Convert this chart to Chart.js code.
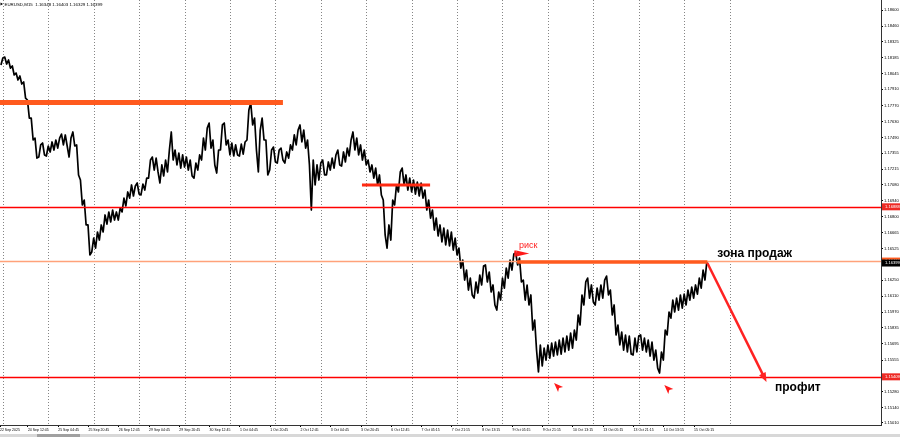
<!DOCTYPE html>
<html lang="ru">
<head>
  <meta charset="UTF-8" />
  <title>EURUSD,M15</title>
  <script src="https://cdn.jsdelivr.net/npm/chart.js"></script>
  <style>
    html, body { margin: 0; padding: 0; background: #ffffff; }
    #wrap { width: 900px; height: 437px; position: relative; overflow: hidden; }
    #chart { display: block; }
    .scroll { position: absolute; left: 0; top: 434px; width: 900px; height: 3px; background: #d8d8d8; }
    .scroll i { position: absolute; left: 37px; top: 0; width: 43px; height: 3px; background: #a0a0a0; }
  </style>
</head>
<body>
  <div id="wrap">
    <canvas id="chart" width="900" height="434"></canvas>
    <div class="scroll"><i></i></div>
  </div>

  <script>
    // EURUSD M15, grouped in 2-hour columns (8 bars), high / low
    const barsPerColumn = 8;
    const highs = [
      1.18182, 1.18191, 1.18165, 1.18113, 1.18052, 1.18026, 1.17974, 1.17817, 1.17660, 1.17486,
      1.17426, 1.17443, 1.17417, 1.17452, 1.17469, 1.17486, 1.17521, 1.17513, 1.17486, 1.17539,
      1.17426, 1.17121, 1.16947, 1.16730, 1.16616, 1.16669, 1.16730, 1.16817, 1.16843, 1.16860,
      1.16843, 1.16877, 1.16964, 1.17017, 1.17078, 1.17069, 1.17095, 1.17086, 1.17138, 1.17295,
      1.17321, 1.17312, 1.17252, 1.17295, 1.17382, 1.17539, 1.17382, 1.17356, 1.17339, 1.17321,
      1.17295, 1.17269, 1.17339, 1.17486, 1.17574, 1.17617, 1.17469, 1.17382, 1.17600, 1.17617,
      1.17469, 1.17443, 1.17426, 1.17434, 1.17452, 1.17730, 1.17791, 1.17660, 1.17556, 1.17660,
      1.17469, 1.17382, 1.17408, 1.17382, 1.17399, 1.17365, 1.17426, 1.17513, 1.17556, 1.17600,
      1.17556, 1.17469, 1.17295, 1.17252, 1.17269, 1.17295, 1.17278, 1.17312, 1.17339, 1.17382,
      1.17365, 1.17399, 1.17469, 1.17539, 1.17486, 1.17426, 1.17382, 1.17295, 1.17252, 1.17225,
      1.17165, 1.16947, 1.16730, 1.16947, 1.17078, 1.17191, 1.17225, 1.17165, 1.17138, 1.17121,
      1.17103, 1.17095, 1.17034, 1.16947, 1.16860, 1.16790, 1.16730, 1.16703, 1.16686, 1.16669,
      1.16616, 1.16529, 1.16425, 1.16338, 1.16268, 1.16234, 1.16295, 1.16373, 1.16382, 1.16321,
      1.16208, 1.16147, 1.16268, 1.16355, 1.16425, 1.16477, 1.16486, 1.16442, 1.16251, 1.16208,
      1.16121, 1.15903, 1.15686, 1.15659, 1.15686, 1.15703, 1.15712, 1.15729, 1.15746, 1.15764,
      1.15790, 1.15816, 1.15947, 1.16121, 1.16234, 1.16268, 1.16208, 1.16181, 1.16208, 1.16251,
      1.16286, 1.16164, 1.16034, 1.15860, 1.15799, 1.15773, 1.15764, 1.15746, 1.15764, 1.15773,
      1.15746, 1.15729, 1.15712, 1.15642, 1.15625, 1.15816, 1.15973, 1.16077, 1.16094, 1.16121,
      1.16129, 1.16164, 1.16190, 1.16208, 1.16268, 1.16338, 1.16416
    ];
    const lows = [
      1.18122, 1.18130, 1.18095, 1.18035, 1.17991, 1.17956, 1.17834, 1.17660, 1.17469, 1.17312,
      1.17321, 1.17339, 1.17330, 1.17365, 1.17382, 1.17399, 1.17426, 1.17417, 1.17321, 1.17417,
      1.17165, 1.16904, 1.16730, 1.16469, 1.16495, 1.16529, 1.16599, 1.16669, 1.16738, 1.16756,
      1.16773, 1.16773, 1.16843, 1.16895, 1.16964, 1.16982, 1.16999, 1.16991, 1.17034, 1.17138,
      1.17208, 1.17191, 1.17095, 1.17156, 1.17191, 1.17295, 1.17252, 1.17225, 1.17234, 1.17208,
      1.17156, 1.17138, 1.17208, 1.17295, 1.17382, 1.17399, 1.17252, 1.17182, 1.17382, 1.17426,
      1.17339, 1.17330, 1.17339, 1.17330, 1.17347, 1.17469, 1.17600, 1.17382, 1.17191, 1.17469,
      1.17165, 1.17208, 1.17278, 1.17269, 1.17295, 1.17269, 1.17312, 1.17382, 1.17426, 1.17452,
      1.17399, 1.17252, 1.16860, 1.17078, 1.17121, 1.17165, 1.17165, 1.17208, 1.17225, 1.17252,
      1.17243, 1.17278, 1.17330, 1.17382, 1.17339, 1.17295, 1.17252, 1.17191, 1.17138, 1.17078,
      1.16991, 1.16643, 1.16529, 1.16599, 1.16904, 1.17017, 1.17078, 1.17034, 1.17017, 1.16999,
      1.16982, 1.16964, 1.16860, 1.16790, 1.16686, 1.16634, 1.16582, 1.16556, 1.16547, 1.16512,
      1.16469, 1.16355, 1.16251, 1.16164, 1.16121, 1.16094, 1.16138, 1.16208, 1.16234, 1.16147,
      1.16034, 1.15990, 1.16077, 1.16181, 1.16268, 1.16338, 1.16382, 1.16234, 1.16077, 1.16034,
      1.15816, 1.15642, 1.15451, 1.15503, 1.15555, 1.15572, 1.15590, 1.15599, 1.15607, 1.15625,
      1.15642, 1.15659, 1.15729, 1.15860, 1.16034, 1.16094, 1.16060, 1.16034, 1.16077, 1.16094,
      1.16121, 1.15947, 1.15773, 1.15686, 1.15642, 1.15625, 1.15607, 1.15599, 1.15625, 1.15642,
      1.15625, 1.15590, 1.15555, 1.15485, 1.15442, 1.15555, 1.15773, 1.15920, 1.15973, 1.15990,
      1.16007, 1.16034, 1.16077, 1.16094, 1.16129, 1.16181, 1.16251
    ];

    // time axis (bar numbers from the left edge)
    const timeLabels = [
      '22 Sep 2025', '24 Sep 12:45', '25 Sep 04:45', '25 Sep 20:45', '26 Sep 12:45', '29 Sep 04:45',
      '29 Sep 20:45', '30 Sep 12:45', '1 Oct 04:45', '1 Oct 20:45', '2 Oct 12:45', '3 Oct 04:45',
      '3 Oct 20:45', '6 Oct 12:45', '7 Oct 05:15', '7 Oct 21:15', '8 Oct 13:15', '9 Oct 05:15',
      '9 Oct 21:15', '10 Oct 13:15', '13 Oct 05:15', '13 Oct 21:15', '14 Oct 13:15', '15 Oct 05:15'
    ];
    const timeLabelBars = [0, 59, 123, 187, 251, 315, 379, 443, 507, 571, 635, 699, 763, 827, 891,
      955, 1019, 1083, 1147, 1211, 1275, 1339, 1403, 1467];
    const daySeparatorBars = [7, 103, 199, 295, 391, 487, 583, 679, 775, 871, 967, 1063, 1159,
      1255, 1351, 1447, 1543];

    const priceTicks = [
      1.18600, 1.18460, 1.18325, 1.18185, 1.18045, 1.17910, 1.17770, 1.17630, 1.17490, 1.17355,
      1.17215, 1.17080, 1.16940, 1.16800, 1.16665, 1.16525, 1.16385, 1.16250, 1.16110, 1.15970,
      1.15835, 1.15695, 1.15555, 1.15415, 1.15280, 1.15140, 1.15010
    ];

    const title = 'EURUSD,M15  1.16348 1.16403 1.16329 1.16399';
    const fontFamily = '"Liberation Sans", Arial, sans-serif';

    // objects drawn on the chart by hand (bar number, price)
    const drawings = {
      levels: [
        { price: 1.16888, color: '#ff0000', width: 1.6 },
        { price: 1.16416, color: '#ffa27a', width: 1.3 },
        { price: 1.15409, color: '#ff0000', width: 1.6 }
      ],
      segments: [
        { from: 0, to: 598, price: 1.17796, color: '#ff5a1e', width: 5 },
        { from: 765, to: 909, price: 1.17078, color: '#ff2a12', width: 3 },
        { from: 1093, to: 1495, price: 1.16408, color: '#ff5a1e', width: 3.5 }
      ],
      arrow: { from: [1495, 1.16399], to: [1620, 1.15365], color: '#ff2222', width: 2.5 },
      flag: { bar: 1087, price: 1.16482, color: '#ff1a1a' },
      markers: [
        { bar: 1171, price: 1.15355 },
        { bar: 1404, price: 1.15338 }
      ],
      texts: [
        { text: 'зона продаж', bar: 1516, price: 1.16477, font: 'bold 12px ' + fontFamily, color: '#000' },
        { text: 'профит', bar: 1638, price: 1.15311, font: 'bold 12px ' + fontFamily, color: '#000' },
        { text: 'риск', bar: 1097, price: 1.16551, font: '9px ' + fontFamily, color: '#ff2020' }
      ],
      priceBoxes: [
        { price: 1.16888, text: '1.16888', bg: '#ee2a24' },
        { price: 1.16416, text: '1.16416', bg: '#ff5a1e' },
        { price: 1.16399, text: '1.16399', bg: '#000000' },
        { price: 1.15409, text: '1.15409', bg: '#ee2a24' }
      ]
    };

    // price path: each 2-hour column drawn as a stroke between its high and low
    const pathPoints = [];
    highs.forEach((h, i) => {
      const l = lows[i];
      const mid = (h + l) / 2;
      const next = i + 1 < highs.length ? (highs[i + 1] + lows[i + 1]) / 2 : mid;
      const down = next < mid;
      pathPoints.push({ x: i * barsPerColumn + 2, y: down ? h : l });
      pathPoints.push({ x: i * barsPerColumn + 6, y: down ? l : h });
    });

    const overlay = {
      id: 'overlay',
      afterDatasetsDraw(chart) {
        const { ctx, chartArea: a, scales: { x, y } } = chart;
        const px = v => x.getPixelForValue(v);
        const py = v => y.getPixelForValue(v);
        ctx.save();
        ctx.beginPath();
        ctx.rect(a.left, a.top, a.right - a.left, a.bottom - a.top);
        ctx.clip();
        ctx.setLineDash([]);
        ctx.globalAlpha = 1;

        drawings.levels.forEach(l => {
          const yy = Math.round(py(l.price)) + 0.5;
          ctx.strokeStyle = l.color;
          ctx.lineWidth = l.width;
          ctx.beginPath();
          ctx.moveTo(a.left, yy);
          ctx.lineTo(a.right, yy);
          ctx.stroke();
        });

        drawings.segments.forEach(s => {
          ctx.strokeStyle = s.color;
          ctx.lineWidth = s.width;
          ctx.beginPath();
          ctx.moveTo(px(s.from), py(s.price));
          ctx.lineTo(px(s.to), py(s.price));
          ctx.stroke();
        });

        // arrow to the target
        const ar = drawings.arrow;
        const x0 = px(ar.from[0]), y0 = py(ar.from[1]);
        const x1 = px(ar.to[0]), y1 = py(ar.to[1]);
        const ang = Math.atan2(y1 - y0, x1 - x0);
        ctx.strokeStyle = ar.color;
        ctx.fillStyle = ar.color;
        ctx.lineWidth = ar.width;
        ctx.beginPath();
        ctx.moveTo(x0, y0);
        ctx.lineTo(x1 - 5 * Math.cos(ang), y1 - 5 * Math.sin(ang));
        ctx.stroke();
        ctx.beginPath();
        ctx.moveTo(x1, y1);
        ctx.lineTo(x1 - 10 * Math.cos(ang - 0.38), y1 - 10 * Math.sin(ang - 0.38));
        ctx.lineTo(x1 - 10 * Math.cos(ang + 0.38), y1 - 10 * Math.sin(ang + 0.38));
        ctx.closePath();
        ctx.fill();

        // risk flag
        const f = drawings.flag;
        const fx = px(f.bar), fy = py(f.price);
        ctx.fillStyle = f.color;
        ctx.fillRect(fx, fy - 3, 2, 6);
        ctx.beginPath();
        ctx.moveTo(fx + 2, fy - 3);
        ctx.lineTo(fx + 15, fy);
        ctx.lineTo(fx + 2, fy + 3);
        ctx.closePath();
        ctx.fill();

        // small arrow marks under the lows
        drawings.markers.forEach(m => {
          const mx = px(m.bar), my = py(m.price);
          ctx.fillStyle = '#ff1a1a';
          ctx.beginPath();
          ctx.moveTo(mx, my);
          ctx.lineTo(mx + 9, my + 4);
          ctx.lineTo(mx + 5, my + 5);
          ctx.lineTo(mx + 4, my + 9);
          ctx.closePath();
          ctx.fill();
        });

        drawings.texts.forEach(t => {
          ctx.font = t.font;
          ctx.fillStyle = t.color;
          ctx.textAlign = 'left';
          ctx.textBaseline = 'middle';
          ctx.fillText(t.text, px(t.bar), py(t.price));
        });
        ctx.restore();
      },
      afterDraw(chart) {
        const { ctx, chartArea: a, scales: { y } } = chart;
        ctx.save();
        drawings.priceBoxes.forEach(b => {
          const yy = y.getPixelForValue(b.price);
          ctx.fillStyle = b.bg;
          ctx.fillRect(a.right + 1, yy - 3.5, chart.width - a.right - 1, 7);
          ctx.fillStyle = '#ffffff';
          ctx.font = '4.1px ' + fontFamily;
          ctx.textAlign = 'left';
          ctx.textBaseline = 'middle';
          ctx.fillText(b.text, a.right + 4, yy);
        });
        // symbol line in the corner
        ctx.fillStyle = '#000';
        ctx.beginPath();
        ctx.moveTo(0.5, 2.5);
        ctx.lineTo(3, 4);
        ctx.lineTo(0.5, 5.5);
        ctx.closePath();
        ctx.fill();
        ctx.font = '4.4px ' + fontFamily;
        ctx.textAlign = 'left';
        ctx.textBaseline = 'middle';
        ctx.fillText(title, 4.5, 4.5);
        ctx.restore();
      }
    };

    const noPadding = scale => {
      scale.paddingTop = 0;
      scale.paddingBottom = 0;
      scale.paddingLeft = 0;
      scale.paddingRight = 0;
    };

    new Chart(document.getElementById('chart'), {
      type: 'line',
      data: {
        datasets: [{
          data: pathPoints,
          borderColor: '#000000',
          borderWidth: 1.7,
          borderJoinStyle: 'round',
          pointRadius: 0,
          tension: 0,
          fill: false,
          xAxisID: 'x',
          yAxisID: 'y'
        }]
      },
      options: {
        responsive: false,
        animation: false,
        devicePixelRatio: 1,
        events: [],
        layout: { padding: 0 },
        plugins: { legend: { display: false }, tooltip: { enabled: false }, title: { display: false } },
        scales: {
          x: {
            type: 'linear',
            position: 'bottom',
            min: 0,
            max: 1862,
            offset: false,
            afterBuildTicks: s => { s.ticks = timeLabelBars.map(v => ({ value: v })); },
            afterFit: s => { s.height = 9; noPadding(s); },
            ticks: {
              autoSkip: false,
              maxRotation: 0,
              minRotation: 0,
              align: 'start',
              padding: 1,
              color: '#000',
              font: { family: fontFamily, size: 3.5 },
              callback: (v, i) => timeLabels[i]
            },
            grid: { drawOnChartArea: false, drawTicks: true, tickLength: 2, color: '#000', offset: false },
            border: { display: true, color: '#333' }
          },
          days: {
            type: 'linear',
            position: 'bottom',
            min: 0,
            max: 1862,
            offset: false,
            afterBuildTicks: s => { s.ticks = daySeparatorBars.map(v => ({ value: v })); },
            afterFit: s => { s.height = 0; noPadding(s); },
            ticks: { display: false },
            grid: { drawOnChartArea: true, drawTicks: false, color: '#858585', lineWidth: 1, offset: false },
            border: { display: false, dash: [1, 2] }
          },
          y: {
            type: 'linear',
            position: 'right',
            min: 1.14990,
            max: 1.18687,
            afterBuildTicks: s => { s.ticks = priceTicks.map(v => ({ value: v })); },
            afterFit: s => { s.width = 19; noPadding(s); },
            ticks: {
              autoSkip: false,
              padding: 1,
              color: '#000',
              font: { family: fontFamily, size: 4.1 },
              callback: v => v.toFixed(5)
            },
            grid: { drawOnChartArea: false, drawTicks: true, tickLength: 2, color: '#000' },
            border: { display: true, color: '#333' }
          }
        }
      },
      plugins: [overlay]
    });
  </script>
</body>
</html>
